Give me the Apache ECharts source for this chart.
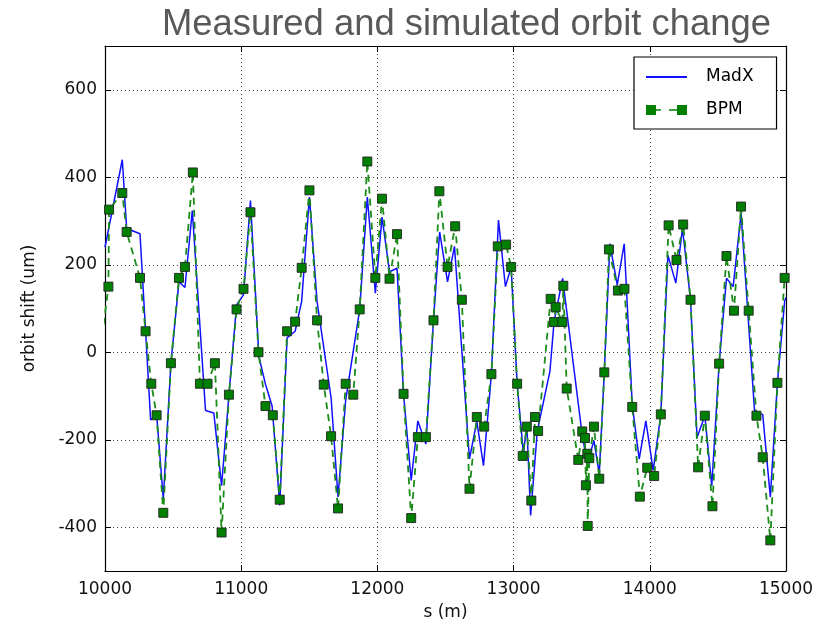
<!DOCTYPE html>
<html>
<head>
<meta charset="utf-8">
<script src="https://cdn.jsdelivr.net/npm/echarts@6/dist/echarts.min.js"></script>
<style>
html,body{margin:0;padding:0;background:#fff;}
#chart{width:825px;height:626px;}
</style>
</head>
<body>
<div id="chart"></div>
<script>
// ---- data ----
const titleText = 'Measured and simulated orbit change';
const seriesNames = ['MadX', 'BPM'];
const xAxisName = 's (m)';
const yAxisName = 'orbit shift (um)';
const yTicks = [-400, -200, 0, 200, 400, 600];

const bpmS = [9990, 10025, 10030, 10127, 10159, 10257, 10298, 10340, 10379, 10428,
  10484, 10543, 10587, 10645, 10697, 10753, 10807, 10856, 10910, 10966,
  11017, 11068, 11127, 11178, 11232, 11283, 11337, 11396, 11444, 11501,
  11557, 11606, 11660, 11711, 11767, 11823, 11870, 11926, 11985, 12034,
  12089, 12144, 12192, 12248, 12297, 12356, 12412, 12455, 12515, 12571,
  12620, 12676, 12730, 12784, 12837, 12884, 12945, 12982, 13026, 13067,
  13097, 13130, 13157, 13180, 13272, 13297, 13309, 13358, 13365, 13390,
  13475, 13504, 13524, 13531, 13541, 13544, 13556, 13590, 13629, 13666,
  13700, 13766, 13814, 13871, 13927, 13981, 14032, 14081, 14138, 14196,
  14245, 14299, 14355, 14404, 14460, 14509, 14563, 14618, 14670, 14726,
  14783, 14829, 14885, 14937, 14990];
const bpmVal = [63, 150, 326, 364, 275, 170, 48, -72, -144, -367,
  -25, 170, 195, 411, -72, -72, -25, -412, -97, 98,
  145, 320, 0, -123, -144, -337, 48, 70, 193, 370,
  73, -74, -192, -357, -72, -97, 98, 436, 170, 351,
  168, 270, -95, -379, -194, -194, 73, 368, 195, 288,
  120, -312, -148, -170, -50, 242, 246, 195, -72, -237,
  -170, -339, -148, -180, 122, 69, 103, 69, 152, -83,
  -246, -181, -196, -304, -232, -397, -242, -170, -289, -46,
  235, 141, 145, -125, -330, -264, -283, -142, 290, 211,
  292, 120, -263, -145, -352, -26, 220, 95, 333, 95,
  -145, -240, -430, -70, 170];

const madxS = [10000, 10127, 10159, 10257, 10298, 10335, 10379, 10428, 10484, 10543,
  10587, 10641, 10738, 10799, 10856, 10910, 10966, 11017, 11068, 11130,
  11178, 11227, 11283, 11337, 11396, 11444, 11501, 11557, 11660, 11711,
  11767, 11870, 11926, 11985, 12034, 12089, 12144, 12192, 12248, 12297,
  12356, 12412, 12457, 12515, 12566, 12676, 12730, 12779, 12837, 12889,
  12940, 12982, 13026, 13072, 13097, 13125, 13174, 13267, 13297, 13360,
  13500, 13540, 13590, 13629, 13666, 13707, 13761, 13812, 13871, 13922,
  13971, 14025, 14081, 14133, 14191, 14240, 14299, 14347, 14404, 14455,
  14509, 14563, 14612, 14670, 14770, 14829, 14885, 14937, 14990, 15000];
const madxVal = [240, 440, 283, 271, 48, -155, -142, -335, -25, 161,
  148, 324, -133, -139, -305, -97, 108, 131, 347, -10,
  -73, -123, -350, 33, 48, 117, 355, 116, -104, -331,
  -110, 98, 355, 135, 309, 184, 192, -96, -293, -157,
  -210, 73, 275, 161, 242, -244, -158, -259, -50, 302,
  150, 195, -72, -232, -165, -373, -180, -43, 70, 169,
  -180, -255, -202, -278, -45, 248, 154, 248, -119, -244,
  -157, -270, -142, 222, 158, 283, 120, -195, -145, -305,
  -26, 169, 150, 317, -138, -142, -331, -70, 116, 125];

const bpmData = bpmS.map((s, i) => [s, bpmVal[i]]);
const madxData = madxS.map((s, i) => [s, madxVal[i]]);

const tickFont = {fontFamily: 'DejaVu Sans', fontSize: 17, color: '#111'};
const gridLine = {show: true, lineStyle: {color: '#444', width: 1, type: [1, 3]}};
const frameLine = {show: true, onZero: false, lineStyle: {color: '#000', width: 1.2}};

const chart = echarts.init(document.getElementById('chart'), null, {renderer: 'canvas'});
chart.setOption({
  animation: false,
  backgroundColor: '#fff',
  title: {
    text: titleText,
    left: 162,
    top: 7,
    padding: 0,
    textStyle: {fontFamily: 'Liberation Sans', fontSize: 36.4, fontWeight: 'normal', color: '#595959'}
  },
  grid: {left: 105, right: 39, top: 46, bottom: 52, containLabel: false},
  legend: {
    orient: 'vertical',
    left: 634,
    top: 57,
    padding: [10, 23, 9, 11],
    itemGap: 13,
    itemWidth: 41,
    itemHeight: 10,
    backgroundColor: '#fff',
    borderColor: '#000',
    borderWidth: 1.2,
    borderRadius: 0,
    textStyle: {fontFamily: 'DejaVu Sans', fontSize: 17, color: '#000', lineHeight: 20, padding: [0, 0, 0, 14]},
    data: [
      {name: seriesNames[0], itemStyle: {opacity: 0}},
      {name: seriesNames[1], icon: 'path://M0,0h10v10h-10z M10,4.2h5v1.6h-5z M23,4.2h9v1.6h-9z M31,0h10v10h-10z', itemStyle: {borderWidth: 0}}
    ]
  },
  xAxis: [{
    type: 'value', position: 'bottom', min: 10000, max: 15000, interval: 1000,
    name: xAxisName, nameLocation: 'middle', nameGap: 33,
    nameTextStyle: {fontFamily: 'DejaVu Sans', fontSize: 17, color: '#111'},
    axisLine: frameLine,
    axisTick: {show: true, inside: true, length: 6, lineStyle: {color: '#000'}},
    axisLabel: Object.assign({margin: 10, formatter: v => String(v)}, tickFont),
    splitLine: gridLine
  }, {
    type: 'value', position: 'top', min: 10000, max: 15000, interval: 1000,
    axisLine: frameLine,
    axisTick: {show: true, inside: true, length: 6, lineStyle: {color: '#000'}},
    axisLabel: {show: false},
    splitLine: {show: false}
  }],
  yAxis: [{
    type: 'value', position: 'left', min: -500, max: 700,
    name: yAxisName, nameLocation: 'middle', nameGap: 67, nameRotate: 90,
    nameTextStyle: {fontFamily: 'DejaVu Sans', fontSize: 17, color: '#111'},
    axisLine: frameLine,
    axisTick: {show: true, inside: true, length: 6, lineStyle: {color: '#000'}, customValues: yTicks},
    axisLabel: Object.assign({margin: 8, customValues: yTicks, formatter: v => String(v)}, tickFont),
    splitLine: gridLine
  }, {
    type: 'value', position: 'right', min: -500, max: 700,
    axisLine: frameLine,
    axisTick: {show: true, inside: true, length: 6, lineStyle: {color: '#000'}, customValues: yTicks},
    axisLabel: {show: false, customValues: yTicks},
    splitLine: {show: false}
  }],
  series: [{
    name: seriesNames[0],
    type: 'line',
    xAxisIndex: 0, yAxisIndex: 0,
    data: madxData,
    symbol: 'none',
    clip: true,
    color: '#0000ff',
    lineStyle: {color: '#1010ff', width: 1.5},
    z: 2
  }, {
    name: seriesNames[1],
    type: 'line',
    xAxisIndex: 0, yAxisIndex: 0,
    data: bpmData,
    symbol: 'rect',
    symbolSize: 9,
    showAllSymbol: true,
    clip: true,
    color: '#008000',
    itemStyle: {color: '#008000', borderColor: '#222', borderWidth: 0.9},
    lineStyle: {color: '#1a8c1a', width: 1.8, type: [7, 5]},
    z: 3
  }]
});
</script>
</body>
</html>
